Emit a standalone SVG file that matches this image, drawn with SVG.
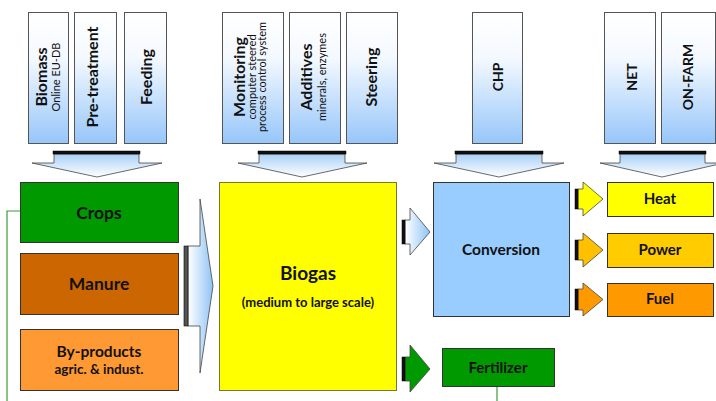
<svg xmlns="http://www.w3.org/2000/svg" width="716" height="401" viewBox="0 0 716 401">
<defs>
  <linearGradient id="topg" x1="0" y1="0" x2="0" y2="1">
    <stop offset="0" stop-color="#ffffff"/>
    <stop offset="0.35" stop-color="#f4f9ff"/>
    <stop offset="1" stop-color="#96c6fa"/>
  </linearGradient>
  <linearGradient id="downg" x1="0" y1="0" x2="0" y2="1">
    <stop offset="0" stop-color="#a9d0f7"/>
    <stop offset="1" stop-color="#ffffff"/>
  </linearGradient>
  <linearGradient id="rightg" x1="0" y1="0" x2="1" y2="0">
    <stop offset="0" stop-color="#ffffff"/>
    <stop offset="1" stop-color="#8ec3f5"/>
  </linearGradient>
</defs>
<style>
  .top { fill: url(#topg); stroke: #555; stroke-width: 1; }
  .box { stroke: #333; stroke-width: 1; }
  .big { font-family: Lato, "Liberation Sans", sans-serif; font-weight: bold; fill: #111; }
  .small { font-family: Lato, "Liberation Sans", sans-serif; font-weight: normal; fill: #111; }
  .lbl { font-family: Lato, "Liberation Sans", sans-serif; font-weight: bold; fill: #111; text-anchor: middle; }
  .arr { stroke: #444; stroke-width: 0.8; }
  .bar { fill: #111; stroke: #000; stroke-width: 0.5; }
  .vt { text-anchor: middle; }
  .link { fill: none; stroke: #3a9a3a; stroke-width: 1.2; }
</style>

<g id="top-biomass">
  <rect class="top" x="28.5" y="12.5" width="40" height="131"/>
  <text class="big vt" font-size="16" transform="translate(47,77) rotate(-90)">Biomass</text>
  <text class="small vt" font-size="11" transform="translate(59.5,77) rotate(-90)">Online EU-DB</text>
</g>
<g id="top-pretreatment">
  <rect class="top" x="74.5" y="12.5" width="42" height="131"/>
  <text class="big vt" font-size="16" transform="translate(98,77) rotate(-90)">Pre-treatment</text>
</g>
<g id="top-feeding">
  <rect class="top" x="124.5" y="12.5" width="42" height="131"/>
  <text class="big vt" font-size="16" transform="translate(152,77) rotate(-90)">Feeding</text>
</g>
<g id="top-monitoring">
  <rect class="top" x="222.5" y="12.5" width="61" height="131"/>
  <text class="big vt" font-size="16" transform="translate(245,77) rotate(-90)">Monitoring</text>
  <text class="small vt" font-size="11" transform="translate(256,77) rotate(-90)">computer steered</text>
  <text class="small vt" font-size="11" transform="translate(266,77) rotate(-90)">process control system</text>
</g>
<g id="top-additives">
  <rect class="top" x="289.5" y="12.5" width="51" height="131"/>
  <text class="big vt" font-size="16" transform="translate(312,77) rotate(-90)">Additives</text>
  <text class="small vt" font-size="11" transform="translate(326,77) rotate(-90)">minerals, enzymes</text>
</g>
<g id="top-steering">
  <rect class="top" x="346.5" y="12.5" width="51" height="131"/>
  <text class="big vt" font-size="16" transform="translate(377,77) rotate(-90)">Steering</text>
</g>
<g id="top-chp">
  <rect class="top" x="472.5" y="12.5" width="50" height="131"/>
  <text class="big vt" font-size="14" transform="translate(503,77) rotate(-90)">CHP</text>
</g>
<g id="top-net">
  <rect class="top" x="604.5" y="12.5" width="51" height="131"/>
  <text class="big vt" font-size="14" transform="translate(637,77) rotate(-90)">NET</text>
</g>
<g id="top-onfarm">
  <rect class="top" x="661.5" y="12.5" width="54" height="131"/>
  <text class="big vt" font-size="14" transform="translate(693,77) rotate(-90)">ON-FARM</text>
</g>

<g id="crops">
  <rect class="box" x="20.5" y="182.5" width="158" height="60" fill="#009900"/>
  <text class="lbl" x="99" y="219" font-size="17.5">Crops</text>
</g>
<g id="manure">
  <rect class="box" x="20.5" y="253.5" width="158" height="61" fill="#cc6600"/>
  <text class="lbl" x="99" y="290" font-size="17.5">Manure</text>
</g>
<g id="byproducts">
  <rect class="box" x="20.5" y="329.5" width="158" height="61" fill="#ff9933"/>
  <text class="lbl" x="99" y="357" font-size="15.5">By-products</text>
  <text class="lbl" x="99" y="374" font-size="13.5">agric. &amp; indust.</text>
</g>
<g id="biogas">
  <rect x="219.5" y="182.5" width="177" height="208" fill="#ffff00" stroke="#77773a" stroke-width="1"/>
  <text class="lbl" x="308" y="280" font-size="19">Biogas</text>
  <text class="lbl" x="308" y="307" font-size="13">(medium to large scale)</text>
</g>
<g id="conversion">
  <rect class="box" x="433.5" y="182.5" width="136" height="134" fill="#99ccff" stroke="#555"/>
  <text class="lbl" x="501" y="255" font-size="15.5">Conversion</text>
</g>
<g id="heat">
  <rect class="box" x="607.5" y="182.5" width="106" height="34" fill="#ffff00"/>
  <text class="lbl" x="660" y="204" font-size="15">Heat</text>
</g>
<g id="power">
  <rect class="box" x="607.5" y="233.5" width="106" height="34" fill="#ffcc00"/>
  <text class="lbl" x="660" y="255" font-size="15">Power</text>
</g>
<g id="fuel">
  <rect class="box" x="607.5" y="283.5" width="106" height="33" fill="#ff9900"/>
  <text class="lbl" x="660" y="304" font-size="15">Fuel</text>
</g>
<g id="fertilizer">
  <rect class="box" x="442.5" y="348.5" width="112" height="38" fill="#009900"/>
  <text class="lbl" x="498" y="373" font-size="15">Fertilizer</text>
</g>

<g id="connectors">
  <!-- down arrows -->
  <path class="arr" fill="url(#downg)" d="M54,154 L139,154 L139,163 L162,163 L97,177 L32,163 L54,163 Z"/>
  <rect class="bar" x="53" y="151" width="87" height="3"/>
  <path class="arr" fill="url(#downg)" d="M259,154 L345,154 L345,163 L367,163 L302,177 L238,163 L259,163 Z"/>
  <rect class="bar" x="258" y="151" width="88" height="3"/>
  <path class="arr" fill="url(#downg)" d="M456,154 L542,154 L542,163 L564,163 L499,177 L434,163 L456,163 Z"/>
  <rect class="bar" x="455" y="151" width="88" height="3"/>
  <path class="arr" fill="url(#downg)" d="M620,154 L705,154 L705,163 L724,163 L662,177 L600,163 L620,163 Z"/>
  <rect class="bar" x="619" y="151" width="87" height="3"/>
  <!-- big arrow into biogas -->
  <path class="arr" fill="url(#rightg)" d="M188,246 L200,246 L200,199 L213,286 L200,373 L200,326 L188,326 Z"/>
  <rect x="184" y="246" width="4" height="80" fill="#555" stroke="#000" stroke-width="0.6"/>
  <!-- biogas to conversion -->
  <path class="arr" fill="url(#rightg)" d="M405,220 L410,220 L410,208 L430,232 L410,255 L410,244 L405,244 Z"/>
  <rect class="bar" x="402" y="220" width="3" height="24"/>
  <!-- biogas to fertilizer -->
  <path class="arr" fill="#009900" d="M405,357 L410,357 L410,345 L430,369 L410,392 L410,381 L405,381 Z"/>
  <rect class="bar" x="402" y="357" width="3" height="24"/>
  <!-- conversion outputs -->
  <path class="arr" fill="#ffff00" d="M578,189 L583,189 L583,182 L603,199 L583,216 L583,209 L578,209 Z"/>
  <rect class="bar" x="575" y="189" width="3" height="20"/>
  <path class="arr" fill="#ffc000" d="M578,240 L583,240 L583,233 L603,250 L583,267 L583,260 L578,260 Z"/>
  <rect class="bar" x="575" y="240" width="3" height="20"/>
  <path class="arr" fill="#ff9900" d="M578,289 L583,289 L583,283 L603,299.5 L583,316 L583,310 L578,310 Z"/>
  <rect class="bar" x="575" y="289" width="3" height="21"/>
  <!-- green feedback lines -->
  <path class="link" d="M20,211 L7,211 L7,401"/>
  <path class="link" d="M497,387 L497,401"/>
</g>
</svg>
